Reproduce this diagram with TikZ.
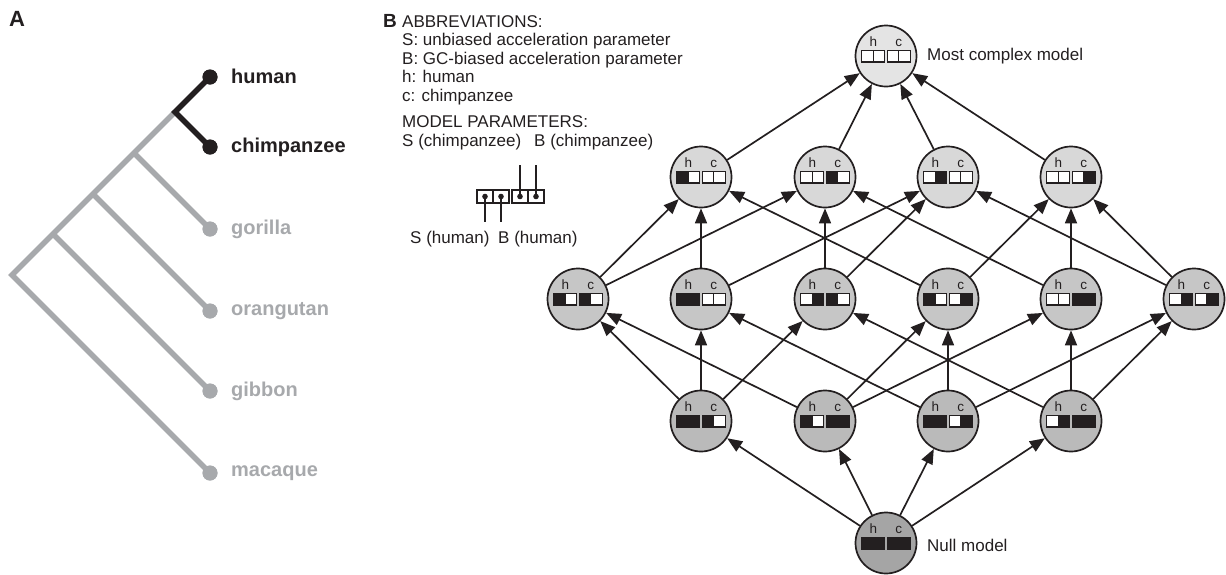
\documentclass[tikz,border=0pt]{standalone}
\usepackage{fontspec}
\setmainfont{Liberation Sans}
\usetikzlibrary{arrows.meta}
\definecolor{tgray}{HTML}{A7A9AC}
\definecolor{tblack}{HTML}{231F20}
\definecolor{lvA}{HTML}{E4E4E4}
\definecolor{lvB}{HTML}{D8D8D8}
\definecolor{lvC}{HTML}{C6C6C6}
\definecolor{lvD}{HTML}{BABABA}
\definecolor{lvE}{HTML}{A5A5A5}
\newcommand\mcells[5]{%
  \begin{scope}[shift={(#1.center)}]
    \node[hclabel] (#1h) at (-12.75,-9.5) {h};
    \node[hclabel] (#1c) at (12.75,-9.5) {c};
    \draw[cellbox, fill=#2] (-24.25,-5.5) rectangle (-12.75,6);
    \draw[cellbox, fill=#3] (-12.75,-5.5) rectangle (-1.25,6);
    \draw[cellbox, fill=#4] (1.25,-5.5) rectangle (12.75,6);
    \draw[cellbox, fill=#5] (12.75,-5.5) rectangle (24.25,6);
  \end{scope}}
\tikzset{
  treeg/.style={draw=tgray, line width=5.5pt, line join=miter},
  treek/.style={draw=tblack, line width=5.5pt, line join=miter},
  tipg/.style={circle, fill=tgray, minimum size=15pt, inner sep=0pt},
  tipk/.style={circle, fill=tblack, minimum size=15pt, inner sep=0pt},
  tiplab/.style={anchor=west, inner sep=0pt, font=\fontsize{20}{20}\selectfont\bfseries},
  txt/.style={anchor=base west, inner sep=0pt, text=tblack, font=\fontsize{17}{17}\selectfont},
  hclabel/.style={anchor=base, inner sep=0pt, text=tblack, font=\fontsize{13.5}{13.5}\selectfont},
  cellbox/.style={draw=tblack, line width=1.3pt},
  mnode/.style={circle, draw=tblack, line width=1.7pt, minimum size=61pt, inner sep=0pt},
  edge/.style={draw=tblack, line width=1.7pt, -{Triangle[length=15pt,width=12pt]}},
}
\begin{document}
\begin{tikzpicture}[x=1pt, y={(0pt,-1pt)}]
\useasboundingbox (0,0) rectangle (1226,574);
% ---------- Panel A ----------
\node[anchor=base west, inner sep=0pt, text=tblack, font=\fontsize{22}{22}\selectfont\bfseries] (labA) at (9,26) {A};
\coordinate (root) at (12,275);
\coordinate (hc) at (175,112);
\coordinate (jgo) at (134,153);
\coordinate (jor) at (93,194);
\coordinate (jgi) at (53,234);
\node[tipk] (human) at (210,77) {};
\node[tipk] (chimp) at (210,147) {};
\node[tipg] (gorilla) at (210,229) {};
\node[tipg] (orang) at (210,311) {};
\node[tipg] (gibbon) at (210,391) {};
\node[tipg] (macaque) at (210,473) {};
\draw[treeg] (macaque.center) -- (root) -- (hc);
\draw[treeg] (jgi) -- (gibbon.center);
\draw[treeg] (jor) -- (orang.center);
\draw[treeg] (jgo) -- (gorilla.center);
\draw[treek] (human.center) -- (hc) -- (chimp.center);
\node[tipk] at (human.center) {};
\node[tipk] at (chimp.center) {};
\node[tipg] at (gorilla.center) {};
\node[tipg] at (orang.center) {};
\node[tipg] at (gibbon.center) {};
\node[tipg] at (macaque.center) {};
\node[tiplab, text=tblack] (lhuman) at (231,76) {human};
\node[tiplab, text=tblack] (lchimp) at (231,147) {chimpanzee};
\node[tiplab, text=tgray] (lgorilla) at (231,229) {gorilla};
\node[tiplab, text=tgray] (lorang) at (231,311) {orangutan};
\node[tiplab, text=tgray] (lgibbon) at (231,391) {gibbon};
\node[tiplab, text=tgray] (lmacaque) at (231,473) {macaque};
% ---------- Panel B legend ----------
\node[anchor=base west, inner sep=0pt, text=tblack, font=\fontsize{19}{19}\selectfont\bfseries] (labB) at (383,27) {B};
\node[txt] (t1) at (402,27) {ABBREVIATIONS:};
\node[txt] (t2) at (402,45.5) {S: unbiased acceleration parameter};
\node[txt] (t3) at (402,64) {B: GC-biased acceleration parameter};
\node[txt] (t4) at (402,82.5) {h: human};
\node[txt] (t5) at (402,101) {c: chimpanzee};
\node[txt] (t6) at (402,127) {MODEL PARAMETERS:};
\node[txt] (t7) at (402,146) {S (chimpanzee)};
\node[txt] (t8) at (534,146) {B (chimpanzee)};
\node[txt] (t9) at (410,243) {S (human)};
\node[txt] (t10) at (498,243) {B (human)};
\draw[cellbox] (477,190) rectangle (493,203);
\draw[cellbox] (493,190) rectangle (509,203);
\draw[cellbox] (512,190) rectangle (528,203);
\draw[cellbox] (528,190) rectangle (544,203);
\coordinate (d1) at (485,196.5);
\coordinate (d2) at (501,196.5);
\coordinate (d3) at (520,196.5);
\coordinate (d4) at (536,196.5);
\coordinate (e1) at (485,222);
\coordinate (e2) at (501,222);
\coordinate (e3) at (520,165);
\coordinate (e4) at (536,165);
\draw[tblack, line width=1.5pt] (d1) -- (e1) (d2) -- (e2) (d3) -- (e3) (d4) -- (e4);
\foreach \d in {d1,d2,d3,d4} \fill[tblack] (\d) circle (2.8pt);
% ---------- Lattice ----------
\node[mnode, fill=lvE] (n0) at (886,543) {};
\node[mnode, fill=lvD] (a1) at (701,421) {};
\node[mnode, fill=lvD] (a2) at (825,421) {};
\node[mnode, fill=lvD] (a3) at (948,421) {};
\node[mnode, fill=lvD] (a4) at (1071,421) {};
\node[mnode, fill=lvC] (b1) at (578,299) {};
\node[mnode, fill=lvC] (b2) at (701,299) {};
\node[mnode, fill=lvC] (b3) at (825,299) {};
\node[mnode, fill=lvC] (b4) at (948,299) {};
\node[mnode, fill=lvC] (b5) at (1071,299) {};
\node[mnode, fill=lvC] (b6) at (1194,299) {};
\node[mnode, fill=lvB] (c1) at (701,177) {};
\node[mnode, fill=lvB] (c2) at (825,177) {};
\node[mnode, fill=lvB] (c3) at (948,177) {};
\node[mnode, fill=lvB] (c4) at (1071,177) {};
\node[mnode, fill=lvA] (top) at (886,56) {};
\mcells{n0}{tblack}{tblack}{tblack}{tblack}
\mcells{a1}{tblack}{tblack}{tblack}{white}
\mcells{a2}{tblack}{white}{tblack}{tblack}
\mcells{a3}{tblack}{tblack}{white}{tblack}
\mcells{a4}{white}{tblack}{tblack}{tblack}
\mcells{b1}{tblack}{white}{tblack}{white}
\mcells{b2}{tblack}{tblack}{white}{white}
\mcells{b3}{white}{tblack}{tblack}{white}
\mcells{b4}{tblack}{white}{white}{tblack}
\mcells{b5}{white}{white}{tblack}{tblack}
\mcells{b6}{white}{tblack}{white}{tblack}
\mcells{c1}{tblack}{white}{white}{white}
\mcells{c2}{white}{white}{tblack}{white}
\mcells{c3}{white}{tblack}{white}{white}
\mcells{c4}{white}{white}{white}{tblack}
\mcells{top}{white}{white}{white}{white}
\foreach \u/\v in {n0/a1,n0/a2,n0/a3,n0/a4,
  a1/b1,a1/b2,a1/b3, a2/b1,a2/b4,a2/b5, a3/b2,a3/b4,a3/b6, a4/b3,a4/b5,a4/b6,
  b1/c1,b1/c2, b2/c1,b2/c3, b3/c2,b3/c3, b4/c1,b4/c4, b5/c2,b5/c4, b6/c3,b6/c4,
  c1/top,c2/top,c3/top,c4/top}
  \draw[edge] (\u) -- (\v);
\node[txt, anchor=west] (lmost) at (927,56) {Most complex model};
\node[txt, anchor=west] (lnull) at (927,545) {Null model};
\end{tikzpicture}
\end{document}
